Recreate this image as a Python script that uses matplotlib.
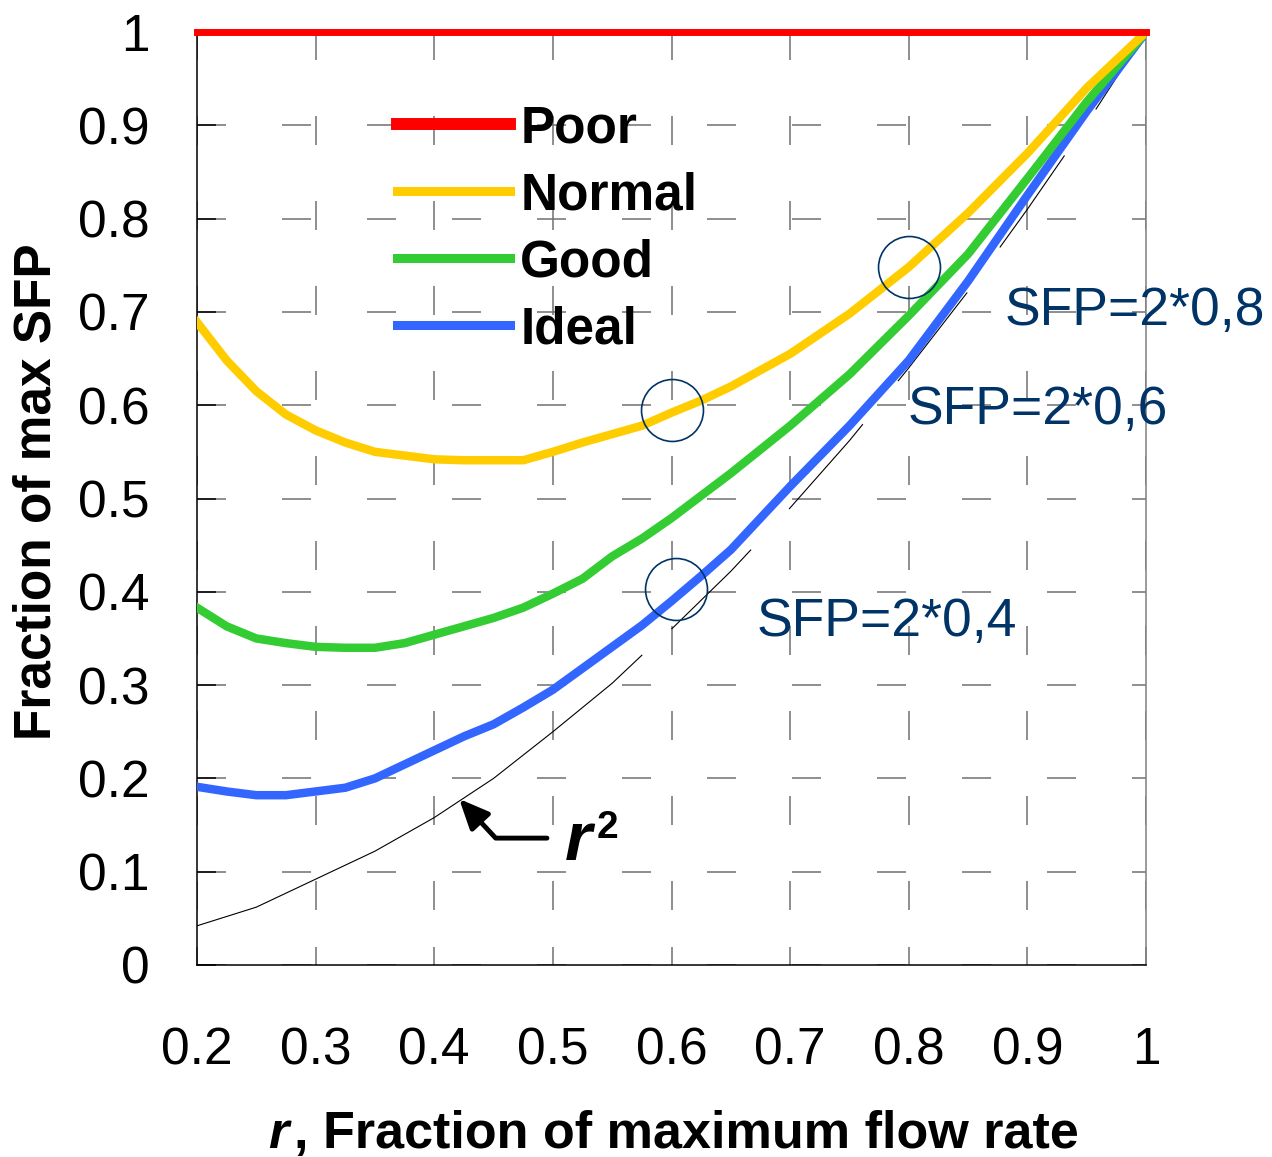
import matplotlib
matplotlib.use("Agg")
import matplotlib.pyplot as plt
from matplotlib.lines import Line2D

plt.rcParams['font.family'] = ['Liberation Sans', 'DejaVu Sans']
plt.rcParams['lines.scale_dashes'] = False

# --- data ---
r = [0.2, 0.225, 0.25, 0.275, 0.3, 0.325, 0.35, 0.375, 0.4, 0.425, 0.45, 0.475,
     0.5, 0.525, 0.55, 0.575, 0.6, 0.625, 0.65, 0.7, 0.75, 0.8, 0.85, 0.9, 0.95, 1.0]
normal = [0.689, 0.648, 0.615, 0.590, 0.573, 0.560, 0.550, 0.546, 0.542, 0.541, 0.541, 0.541,
          0.550, 0.560, 0.569, 0.578, 0.592, 0.605, 0.620, 0.655, 0.698, 0.748, 0.806, 0.870, 0.940, 1.0]
good = [0.383, 0.363, 0.350, 0.345, 0.341, 0.340, 0.340, 0.345, 0.354, 0.363, 0.372, 0.383,
        0.398, 0.414, 0.438, 0.457, 0.479, 0.503, 0.527, 0.578, 0.633, 0.696, 0.762, 0.843, 0.925, 1.0]
ideal = [0.191, 0.186, 0.182, 0.182, 0.186, 0.190, 0.200, 0.215, 0.230, 0.245, 0.258, 0.276,
         0.295, 0.318, 0.341, 0.364, 0.390, 0.417, 0.445, 0.513, 0.578, 0.648, 0.733, 0.825, 0.915, 1.0]
poor_r = [0.2, 1.0]
poor = [1.0, 1.0]

rsq_r = [0.2, 0.25, 0.3, 0.35, 0.4, 0.45, 0.5, 0.55, 0.575,
         0.6, 0.65, 0.7, 0.75, 0.8, 0.85, 0.9, 0.95, 1.0]
rsq = [0.042, 0.062, 0.092, 0.122, 0.158, 0.200, 0.250, 0.302, 0.332,
       0.360, 0.422, 0.490, 0.562, 0.640, 0.722, 0.810, 0.902, 1.0]

circ_r = [0.600, 0.800, 0.604]
circ_v = [0.595, 0.748, 0.403]
sfp_labels = ["SFP=2*0,8", "SFP=2*0,6", "SFP=2*0,4"]
sfp_r = [0.881, 0.799, 0.672]
sfp_v = [0.701, 0.595, 0.368]

xticks = [0.2, 0.3, 0.4, 0.5, 0.6, 0.7, 0.8, 0.9, 1.0]
xticklabels = ["0.2", "0.3", "0.4", "0.5", "0.6", "0.7", "0.8", "0.9", "1"]
yticks = [0, 0.1, 0.2, 0.3, 0.4, 0.5, 0.6, 0.7, 0.8, 0.9, 1.0]
yticklabels = ["0", "0.1", "0.2", "0.3", "0.4", "0.5", "0.6", "0.7", "0.8", "0.9", "1"]

RED, YEL, GRN, BLU = "#FF0000", "#FFCC00", "#33CC33", "#3366FF"
NAVY = "#003366"
FS = 37

fig = plt.figure(figsize=(12.72, 11.57), dpi=100)
ax = fig.add_axes([197 / 1272, 1 - 965 / 1157, 949 / 1272, 933 / 1157])
ax.set_xlim(0.2, 1.0)
ax.set_ylim(0, 1)

# dashed grid (horizontal from the left, vertical from the top)
ax.yaxis.grid(True, color="#707070", lw=1.1, linestyle=(0, (20.9, 40.3)))
ax.xaxis.grid(True, color="#707070", lw=1.1, linestyle=(21.6, (20.9, 40.3)))
ax.set_axisbelow(True)

ax.spines["top"].set_visible(False)
ax.spines["right"].set_color("#808080")
for s in ["left", "bottom", "right"]:
    ax.spines[s].set_linewidth(1.1)

ax.set_xticks(xticks)
ax.set_xticklabels(xticklabels)
ax.set_yticks(yticks)
ax.set_yticklabels(yticklabels)
ax.tick_params(axis="x", direction="in", length=13, width=1.1, color="#707070",
               labelsize=FS, pad=44)
ax.tick_params(axis="y", direction="in", length=14, width=1.1, color="black",
               labelsize=FS, pad=34)

# r^2 reference curve: solid in the lower part, broken in the upper part
lo = [i for i, v in enumerate(rsq_r) if v <= 0.575]
hi = [i for i, v in enumerate(rsq_r) if v >= 0.6]
ax.plot([rsq_r[i] for i in lo], [rsq[i] for i in lo], color="black", lw=0.8, zorder=2)
ax.plot([rsq_r[i] for i in hi], [rsq[i] for i in hi], color="black", lw=0.8, zorder=2,
        linestyle=(0, (81, 40)))

ax.plot(r, ideal, color=BLU, lw=6.1, zorder=3, solid_joinstyle="round")
ax.plot(r, good, color=GRN, lw=6.1, zorder=3, solid_joinstyle="round")
ax.plot(r, normal, color=YEL, lw=6.1, zorder=3, solid_joinstyle="round")
ax.plot(poor_r, poor, color=RED, lw=5, zorder=4, clip_on=False)

ax.plot(circ_r, circ_v, linestyle="none", marker="o", markersize=44.6,
        markerfacecolor="none", markeredgecolor=NAVY, markeredgewidth=1.2, zorder=5)

for lab, x, y in zip(sfp_labels, sfp_r, sfp_v):
    ax.text(x, y, lab, color=NAVY, fontsize=38.5, ha="left", va="center",
            clip_on=False, zorder=6)

# r^2 label with bent arrow
ax.annotate("", xy=(0.421, 0.178), xytext=(0.495, 0.136),
            arrowprops=dict(arrowstyle="-|>,head_length=0.9,head_width=0.4",
                            connectionstyle="angle,angleA=0,angleB=-47,rad=0",
                            lw=3.5, color="black", shrinkA=0, shrinkB=0,
                            mutation_scale=20))
ax.text(0.510, 0.1125, "r", fontsize=50, fontweight="bold", fontstyle="italic",
        va="baseline", ha="left")
ax.text(0.537, 0.136, "2", fontsize=28, fontweight="bold", va="baseline", ha="left")

handles = [Line2D([], [], color=RED, lw=8.6),
           Line2D([], [], color=YEL, lw=6.5),
           Line2D([], [], color=GRN, lw=6.5),
           Line2D([], [], color=BLU, lw=6.5)]
ax.legend(handles, ["Poor", "Normal", "Good", "Ideal"], loc="upper left",
          bbox_to_anchor=(0.2107, 0.9225), frameon=False, borderpad=0, borderaxespad=0,
          handlelength=2.2, handletextpad=0.2, labelspacing=0.35,
          prop={"weight": "bold", "size": FS})

# axis titles
fig.text(268 / 1272, 1 - 1148 / 1157, "r", fontsize=37.5, fontweight="bold",
         fontstyle="italic", va="baseline", ha="left")
fig.text(294 / 1272, 1 - 1148 / 1157, ", Fraction of maximum flow rate", fontsize=37.5,
         fontweight="bold", va="baseline", ha="left")
fig.text(37 / 1272, 1 - 492 / 1157, "Fraction of max SFP", fontsize=FS,
         fontweight="bold", rotation=90, ha="center", va="center")

fig.savefig("out.png", dpi=100)
